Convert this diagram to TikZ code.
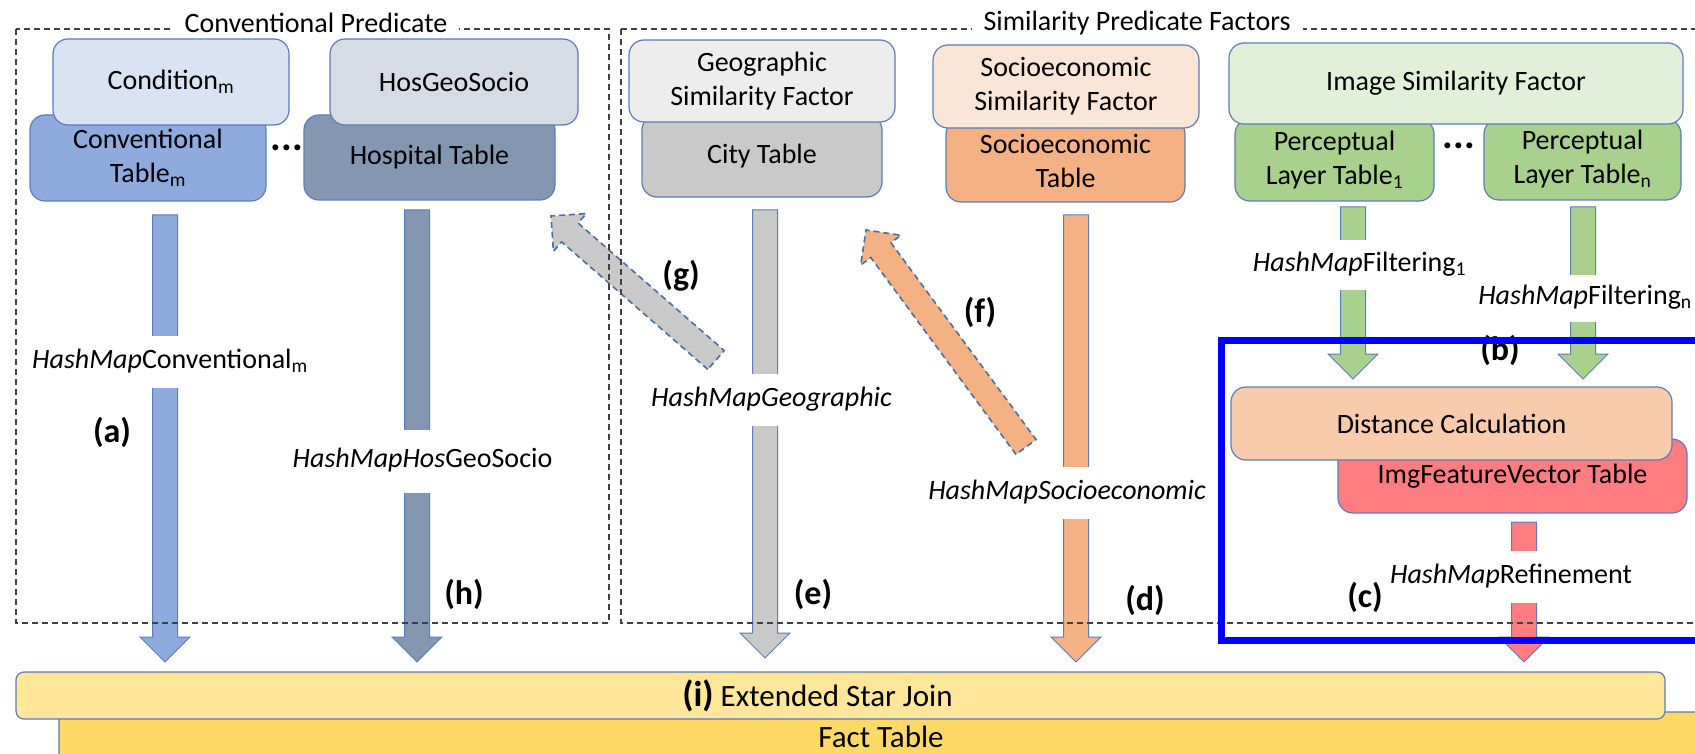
\documentclass[tikz,border=0pt]{standalone}
\usepackage{fontspec}
\setmainfont{Carlito}
\usetikzlibrary{calc}

\definecolor{outl}{HTML}{5B7DB8}
\definecolor{dashol}{HTML}{4A6FA5}
\definecolor{frameC}{HTML}{404040}
\definecolor{condC}{HTML}{DAE3F3}
\definecolor{convC}{HTML}{8FAADC}
\definecolor{hgsC}{HTML}{D6DCE5}
\definecolor{hospC}{HTML}{8497B0}
\definecolor{geoC}{HTML}{EDEDED}
\definecolor{cityC}{HTML}{C9C9C9}
\definecolor{socC}{HTML}{FBE5D6}
\definecolor{socTC}{HTML}{F4B183}
\definecolor{imgC}{HTML}{E2F0D9}
\definecolor{percC}{HTML}{A9D18E}
\definecolor{distC}{HTML}{F8CBAD}
\definecolor{ifvC}{HTML}{FF7C80}
\definecolor{starC}{HTML}{FFE699}
\definecolor{factC}{HTML}{FFD966}

% block arrow from tail #2 to tip #3, drawn with style #1
\newcommand\blockarrow[3]{%
  \coordinate (bah) at ($(#3)!25pt!(#2)$);
  \path[#1] ($(#2)!12.5pt!90:(#3)$) -- ($(bah)!12.5pt!90:(#3)$)
    -- ($(bah)!25pt!90:(#3)$) -- (#3) -- ($(bah)!25pt!-90:(#3)$)
    -- ($(bah)!12.5pt!-90:(#3)$) -- ($(#2)!12.5pt!-90:(#3)$) -- cycle;
}

\begin{document}
\begin{tikzpicture}[x=1pt,y=-1pt,
  font=\fontsize{28}{34}\selectfont,
  box/.style={draw=outl, line width=1.2pt, rounded corners=15pt, align=center, inner sep=0pt},
  arrowfill/.style={fill=#1, draw=outl, line width=1pt},
  dasharrow/.style={fill=#1, draw=dashol, line width=1.6pt, dash pattern=on 6pt off 4pt},
  hashlbl/.style={fill=white, inner xsep=2pt, inner ysep=0pt, minimum height=#1, text height=20pt, text depth=7pt},
  hashlbl/.default=52pt,
  tag/.style={font=\fontsize{34}{40}\selectfont\bfseries, inner sep=0pt},
  frame/.style={draw=frameC, line width=1.2pt, dash pattern=on 6pt off 4pt},
  ttl/.style={fill=white, inner xsep=12pt, inner ysep=0pt},
  dots/.style={font=\fontsize{40}{40}\selectfont\bfseries, inner sep=0pt}]

\useasboundingbox (0,0) rectangle (1695,754);
\fill[white] (0,0) rectangle (1695,754);
\clip (0,0) rectangle (1695,754);

% ---- tables (lower boxes) ----
\node[box, fill=convC, minimum width=236pt, minimum height=86pt] (convTab) at (148,158) {Conventional\\Table\textsubscript{m}};
\node[box, fill=hospC, minimum width=251pt, minimum height=85pt] (hospTab) at (429.5,157.5) {Hospital Table};
\node[box, fill=cityC, minimum width=240pt, minimum height=82pt] (cityTab) at (762,156) {City Table};
\node[box, fill=socTC, minimum width=239pt, minimum height=83pt] (socTab) at (1065.5,160.5) {Socioeconomic\\Table};
\node[box, fill=percC, minimum width=199pt, minimum height=82pt] (perc1) at (1334.5,160) {Perceptual\\Layer Table\textsubscript{1}};
\node[box, fill=percC, minimum width=197pt, minimum height=81pt] (percN) at (1582.5,159.5) {Perceptual\\Layer Table\textsubscript{n}};

% ---- predicate / factor boxes ----
\node[box, fill=condC, minimum width=236pt, minimum height=86pt] (cond) at (171,82) {Condition\textsubscript{m}};
\node[box, fill=hgsC, minimum width=248pt, minimum height=86pt] (hgs) at (454,82) {HosGeoSocio};
\node[box, fill=geoC, minimum width=266pt, minimum height=82pt] (geo) at (762,81) {Geographic\\Similarity Factor};
\node[box, fill=socC, minimum width=266pt, minimum height=83pt] (soc) at (1066,86.5) {Socioeconomic\\Similarity Factor};
\node[box, fill=imgC, minimum width=454pt, minimum height=81pt] (imgSF) at (1456,83.5) {Image Similarity Factor};

\node[dots] (dotsL) at (287,148) {...};
\node[dots] (dotsR) at (1459,146) {...};

% ---- image refinement boxes ----
\node[box, fill=ifvC, minimum width=349pt, minimum height=74pt] (ifv) at (1512.5,476) {ImgFeatureVector Table};
\node[box, fill=distC, minimum width=441pt, minimum height=73pt] (dist) at (1451.5,423.5) {Distance Calculation};

% ---- arrow end points ----
\coordinate (aT) at (165,215);   \coordinate (aE) at (165,662);
\coordinate (hT) at (417,210);   \coordinate (hE) at (417,662);
\coordinate (eT) at (765,210);   \coordinate (eE) at (765,658);
\coordinate (dT) at (1076,215);  \coordinate (dE) at (1076,662);
\coordinate (f1T) at (1353,207); \coordinate (f1E) at (1353,379);
\coordinate (fnT) at (1583,207); \coordinate (fnE) at (1583,379);
\coordinate (rT) at (1524,522);  \coordinate (rE) at (1524,662);
\coordinate (gT) at (716,360);   \coordinate (gE) at (551,216);
\coordinate (fT) at (1026,447);  \coordinate (fE) at (866,230);

\blockarrow{arrowfill=convC}{aT}{aE}
\blockarrow{arrowfill=hospC}{hT}{hE}
\blockarrow{arrowfill=cityC}{eT}{eE}
\blockarrow{arrowfill=socTC}{dT}{dE}
\blockarrow{arrowfill=percC}{f1T}{f1E}
\blockarrow{arrowfill=percC}{fnT}{fnE}
\blockarrow{arrowfill=ifvC}{rT}{rE}
\blockarrow{dasharrow=cityC}{gT}{gE}
\blockarrow{dasharrow=socTC}{fT}{fE}

% ---- hash map labels ----
\node[hashlbl] (lblA) at (170,362) {\textit{HashMap}Conventional\textsubscript{m}};
\node[hashlbl=63pt] (lblH) at (422.5,461) {\textit{HashMapHos}GeoSocio};
\node[hashlbl] (lblGeo) at (771.5,400) {\textit{HashMapGeographic}};
\node[hashlbl] (lblSoc) at (1067,493) {\textit{HashMapSocioeconomic}};
\node[hashlbl=49pt] (lblF1) at (1359.5,265) {\textit{HashMap}Filtering\textsubscript{1}};
\node[hashlbl=47pt] (lblFn) at (1585,298) {\textit{HashMap}Filtering\textsubscript{n}};
\node[hashlbl] (lblRef) at (1511,577) {\textit{HashMap}Refinement};

% ---- dashed frames ----
\draw[frame] (16,29) rectangle (609,623);
\draw[frame] (621,29) rectangle (1720,623);
\node[ttl] (convTitle) at (316,23) {Conventional Predicate};
\node[ttl] (simTitle) at (1137,23) {Similarity Predicate Factors};

% ---- star join ----
\node[box, fill=factC, rounded corners=8pt, minimum width=1644pt, minimum height=50pt] (fact) at (881,737) {\fontsize{31}{36}\selectfont Fact Table};
\node[box, fill=starC, rounded corners=8pt, minimum width=1649pt, minimum height=47pt,
  label={[xshift=-23pt, inner sep=0pt]center:{\fontsize{31}{36}\selectfont\textbf{\fontsize{36}{40}\selectfont(i)} Extended Star Join}}] (star) at (840.5,695.5) {};

% ---- image similarity block ----
\node[tag] (tb) at (1500,350) {(b)};
\draw[blue, line width=7pt] (1221,340) rectangle (1720,640);

% ---- step tags ----
\node[tag] (ta) at (112,432) {(a)};
\node[tag] (th) at (464,594) {(h)};
\node[tag] (tg) at (681,276) {(g)};
\node[tag] (te) at (813,594) {(e)};
\node[tag] (tf) at (980,312) {(f)};
\node[tag] (td) at (1145,600) {(d)};
\node[tag] (tc) at (1365,597) {(c)};

\end{tikzpicture}
\end{document}
